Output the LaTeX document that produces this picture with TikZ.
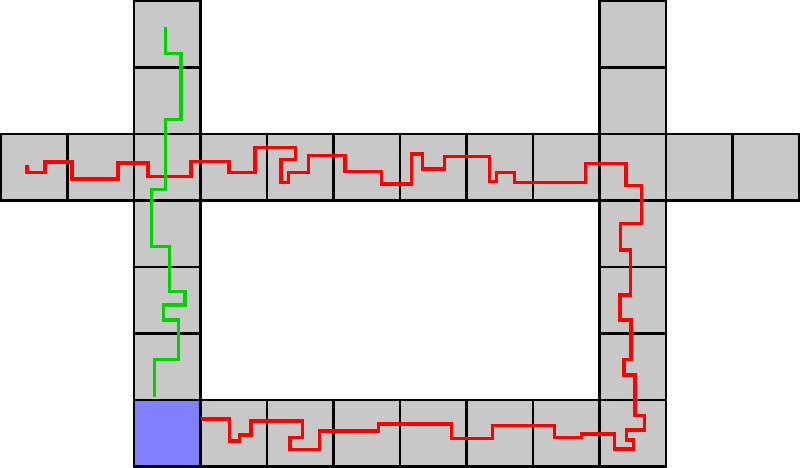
\documentclass[tikz,border=0pt]{standalone}
\definecolor{cellgray}{RGB}{200,200,200}
\definecolor{cellblue}{RGB}{128,128,255}
\definecolor{pathred}{RGB}{255,0,0}
\definecolor{pathgreen}{RGB}{0,210,0}
\begin{document}
\begin{tikzpicture}[x=1pt,y=-1pt,
  cell/.style={fill=cellgray,draw=black,line width=2.7pt},
  startcell/.style={fill=cellblue,draw=black,line width=2.7pt},
  redroute/.style={draw=pathred,line width=3.5pt},
  greenroute/.style={draw=pathgreen,line width=3.5pt}]
\useasboundingbox (0,0) rectangle (800,468);
\foreach \c/\r in {2/0,9/0,2/1,9/1,0/2,1/2,2/2,3/2,4/2,5/2,6/2,7/2,8/2,9/2,10/2,11/2,2/3,9/3,2/4,9/4,2/5,9/5,3/6,4/6,5/6,6/6,7/6,8/6,9/6}
  \draw[cell] ({1+66.5*\c},{1+66.5*\r}) rectangle ++(66.5,66.5);
\draw[startcell] ({1+66.5*2},{1+66.5*6}) rectangle ++(66.5,66.5);
\draw[redroute] (27,165) -- (27,172.3) -- (45,172.3) -- (45,162) -- (72,162) -- (72,179) -- (118,179) -- (118,163) -- (148,163) -- (148,176.7) -- (191,176.7) -- (191,161.7) -- (229,161.7) -- (229,172.3) -- (255,172.3) -- (255,147.7) -- (295.7,147.7) -- (295.7,159.3) -- (281,159.3) -- (281,182.3) -- (288.3,182.3) -- (288.3,172.3) -- (308.3,172.3) -- (308.3,155.7) -- (345,155.7) -- (345,171.7) -- (381.7,171.7) -- (381.7,184) -- (411.7,184) -- (411.7,154) -- (422.7,154) -- (422.7,169) -- (444.3,169) -- (444.3,156.7) -- (489.3,156.7) -- (489.3,181.7) -- (496.7,181.7) -- (496.7,172.7) -- (514.3,172.7) -- (514.3,182.7) -- (585.7,182.7) -- (585.7,163.3) -- (626,163.3) -- (626,185.7) -- (641.7,185.7) -- (641.7,223.3) -- (620.7,223.3) -- (620.7,250) -- (630.7,250) -- (630.7,295) -- (620,295) -- (620,320) -- (631,320) -- (631,359.3) -- (624,359.3) -- (624,375) -- (635,375) -- (635,415.7) -- (644.3,415.7) -- (644.3,430) -- (626.7,430) -- (626.7,440) -- (633.3,440) -- (633.3,449) -- (614.3,449) -- (614.3,434) -- (581.7,434) -- (581.7,437.3) -- (554.3,437.3) -- (554.3,425.7) -- (492.3,425.7) -- (492.3,438.3) -- (451.7,438.3) -- (451.7,424) -- (378.3,424) -- (378.3,431) -- (319.3,431) -- (319.3,449.3) -- (290,449.3) -- (290,437.7) -- (302.7,437.7) -- (302.7,421) -- (251,421) -- (251,435) -- (239.3,435) -- (239.3,441) -- (229.3,441) -- (229.3,419) -- (201,419);
\draw[greenroute] (165.7,26.7) -- (165.7,53.3) -- (181,53.3) -- (181,119.3) -- (165.7,119.3) -- (165.7,189.3) -- (151.7,189.3) -- (151.7,246.7) -- (169.3,246.7) -- (169.3,291.7) -- (185,291.7) -- (185,305) -- (163.3,305) -- (163.3,320) -- (178.3,320) -- (178.3,359.3) -- (154.3,359.3) -- (154.3,396.7);
\end{tikzpicture}
\end{document}
